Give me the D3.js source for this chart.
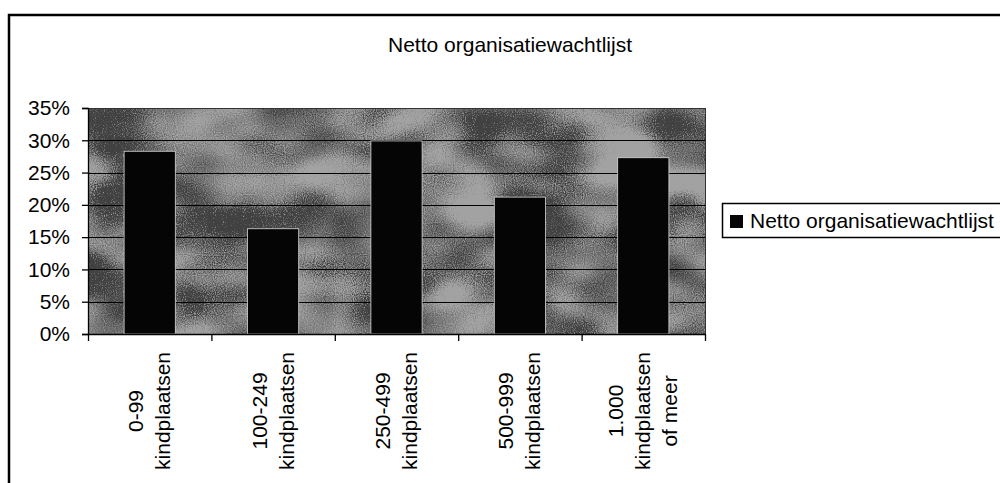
<!DOCTYPE html>
<html>
<head>
<meta charset="utf-8">
<script src="https://cdn.jsdelivr.net/npm/d3@7"></script>
<style>
  body { margin: 0; background: #fff; }
  text { font-family: "Liberation Sans", Arial, sans-serif; fill: #000; }
</style>
</head>
<body>
<div id="chart"></div>
<script>
// data
var categories = [
  ["0-99", "kindplaatsen"],
  ["100-249", "kindplaatsen"],
  ["250-499", "kindplaatsen"],
  ["500-999", "kindplaatsen"],
  ["1.000", "kindplaatsen", "of meer"]
];
var values = [0.283, 0.163, 0.299, 0.212, 0.273];
var yTicks = [0, 0.05, 0.10, 0.15, 0.20, 0.25, 0.30, 0.35];
var seriesName = "Netto organisatiewachtlijst";
var title = "Netto organisatiewachtlijst";

var W = 1000, H = 483;
var plot = {left: 88, right: 705, top: 108, bottom: 334};

var svg = d3.select("#chart")
  .append("svg")
    .attr("width", W)
    .attr("height", H);

// outer chart border (runs off the right and bottom edge)
svg.append("rect")
  .attr("x", 9)
  .attr("y", 15)
  .attr("width", W + 20)
  .attr("height", H + 20)
  .attr("fill", "#fff")
  .attr("stroke", "#000")
  .attr("stroke-width", 2.5);

// title
svg.append("text")
  .attr("x", 510)
  .attr("y", 52)
  .attr("text-anchor", "middle")
  .style("font-size", "21px")
  .text(title);

// scales
var x = d3.scaleBand()
  .domain(d3.range(categories.length))
  .range([plot.left, plot.right])
  .paddingInner(0.585)
  .paddingOuter(0.2925);

var y = d3.scaleLinear()
  .domain([0, 0.35])
  .range([plot.bottom, plot.top]);

// mottled grey texture for the plot area
var defs = svg.append("defs");
var f = defs.append("filter")
  .attr("id", "mottle")
  .attr("x", 0).attr("y", 0).attr("width", 1).attr("height", 1);
f.append("feTurbulence")
  .attr("type", "fractalNoise")
  .attr("baseFrequency", "0.012 0.02")
  .attr("numOctaves", 2)
  .attr("seed", 7)
  .attr("result", "big");
f.append("feTurbulence")
  .attr("type", "fractalNoise")
  .attr("baseFrequency", 0.9)
  .attr("numOctaves", 1)
  .attr("seed", 3)
  .attr("result", "fine");
f.append("feComposite")
  .attr("in", "big").attr("in2", "fine")
  .attr("operator", "arithmetic")
  .attr("k1", 0).attr("k2", 0.8).attr("k3", 0.45).attr("k4", -0.22)
  .attr("result", "mix");
f.append("feColorMatrix")
  .attr("in", "mix")
  .attr("type", "matrix")
  .attr("values",
    "0 0 0 0 0  0 0 0 0 0  0 0 0 0 0  -1.5 0 0 0 0.6");

svg.append("rect")
  .attr("x", plot.left)
  .attr("y", plot.top)
  .attr("width", plot.right - plot.left)
  .attr("height", plot.bottom - plot.top)
  .attr("fill", "#a2a2a2");

svg.append("rect")
  .attr("x", plot.left)
  .attr("y", plot.top)
  .attr("width", plot.right - plot.left)
  .attr("height", plot.bottom - plot.top)
  .attr("fill", "#000")
  .attr("filter", "url(#mottle)");

// gridlines
svg.append("g")
  .selectAll("line")
  .data(yTicks.slice(1))
  .join("line")
    .attr("x1", plot.left)
    .attr("x2", plot.right)
    .attr("y1", function(d) { return Math.round(y(d)) + 0.5; })
    .attr("y2", function(d) { return Math.round(y(d)) + 0.5; })
    .attr("stroke", "#000")
    .attr("stroke-width", 1.2);

// plot area border
svg.append("rect")
  .attr("x", plot.left + 0.5)
  .attr("y", plot.top + 0.5)
  .attr("width", plot.right - plot.left)
  .attr("height", plot.bottom - plot.top)
  .attr("fill", "none")
  .attr("stroke", "#333")
  .attr("stroke-width", 1);

// bars
svg.append("g")
  .selectAll("rect")
  .data(values)
  .join("rect")
    .attr("x", function(d, i) { return x(i); })
    .attr("y", function(d) { return y(d); })
    .attr("width", x.bandwidth())
    .attr("height", function(d) { return y(0) - y(d); })
    .attr("fill", "#050505")
    .attr("stroke", "#d8d8d8")
    .attr("stroke-width", 0.8);

// Y axis
var yAxis = svg.append("g")
  .attr("transform", "translate(" + plot.left + ",0)")
  .call(d3.axisLeft(y).tickValues(yTicks).tickSize(6).tickPadding(12)
    .tickFormat(d3.format(".0%")));
yAxis.selectAll("text").style("font-size", "21px").style("font-family", "Liberation Sans, Arial, sans-serif");
yAxis.selectAll("line, path").attr("stroke", "#000").attr("stroke-width", 1.3);

// X axis: ticks on category boundaries
var bounds = d3.range(categories.length + 1).map(function(i) {
  return plot.left + i * x.step();
});
var xb = d3.scaleLinear().domain([plot.left, plot.right]).range([plot.left, plot.right]);
var xAxis = svg.append("g")
  .attr("transform", "translate(0," + plot.bottom + ")")
  .call(d3.axisBottom(xb).tickValues(bounds).tickSize(7).tickSizeOuter(0).tickFormat(""));
xAxis.selectAll("line, path").attr("stroke", "#000").attr("stroke-width", 1.3);

// rotated, multi-line category labels
var lh = 27;
var labels = svg.append("g")
  .selectAll("g")
  .data(categories)
  .join("g")
    .attr("transform", function(d, i) {
      return "translate(" + (x(i) + x.bandwidth() / 2) + ",352) rotate(-90)";
    });

labels.each(function(lines) {
  var g = d3.select(this);
  var t = g.append("text")
    .attr("text-anchor", "middle")
    .style("font-size", "21px");
  var n = lines.length;
  lines.forEach(function(s, k) {
    t.append("tspan")
      .attr("x", 0)
      .attr("y", (k - (n - 1) / 2) * lh + 7)
      .text(s);
  });
  // push so the longest line ends at the top anchor
  var longest = d3.max(t.selectAll("tspan").nodes(), function(n) { return n.getComputedTextLength(); });
  t.attr("transform", "translate(" + (-longest / 2) + ",0)");
});

// legend
var legend = svg.append("g");
legend.append("rect")
  .attr("x", 722.5)
  .attr("y", 203.5)
  .attr("width", 300)
  .attr("height", 34)
  .attr("fill", "#fff")
  .attr("stroke", "#000")
  .attr("stroke-width", 1.5);
legend.append("rect")
  .attr("x", 730)
  .attr("y", 215)
  .attr("width", 13)
  .attr("height", 13)
  .attr("fill", "#050505");
legend.append("text")
  .attr("x", 750)
  .attr("y", 228)
  .style("font-size", "21px")
  .text(seriesName);
</script>
</body>
</html>
